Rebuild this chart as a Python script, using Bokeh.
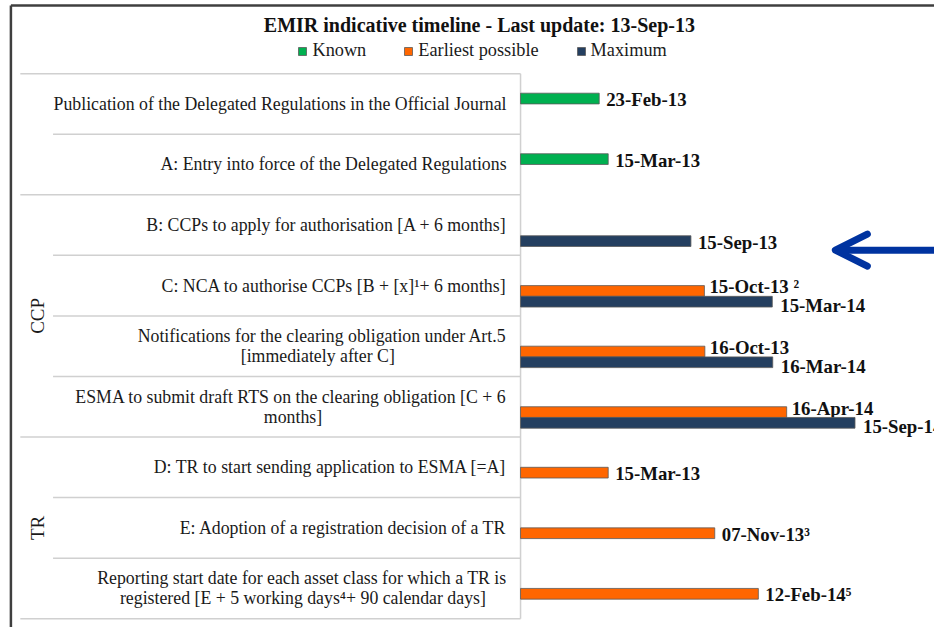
import pandas as pd
from bokeh.plotting import figure
from bokeh.models import (Range1d, Legend, LegendItem, Arrow, OpenHead,
                          ColumnDataSource)
from bokeh.core.properties import value
from bokeh.embed import file_html
from bokeh.resources import INLINE

# ---------------- data ----------------
TITLE = "EMIR indicative timeline - Last update: 13-Sep-13"
series_names = ["Known", "Earliest possible", "Maximum"]

row_line1 = [
    "Publication of the Delegated Regulations in the Official Journal",
    "A: Entry into force of the Delegated Regulations",
    "B: CCPs to apply for authorisation [A + 6 months]",
    "C: NCA to authorise CCPs [B + [x]\u00b9+ 6 months]",
    "Notifications for the clearing obligation under Art.5",
    "ESMA to submit draft RTS on the clearing obligation [C + 6",
    "D: TR to start sending application to ESMA [=A]",
    "E: Adoption of a registration decision of a TR",
    "Reporting start date for each asset class for which a TR is",
]
row_line2 = [
    "", "", "", "",
    "[immediately after C]",
    "months]",
    "", "",
    "registered [E + 5 working days\u2074+ 90 calendar days]",
]
groups = [("", 0, 1), ("CCP", 2, 5), ("TR", 6, 8)]

known_dates = ["2013-02-23", "2013-03-15", None, None, None, None, None, None, None]
earliest_dates = [None, None, None, "2013-10-15", "2013-10-16", "2014-04-16",
                  "2013-03-15", "2013-11-07", "2014-02-12"]
maximum_dates = [None, None, "2013-09-15", "2014-03-15", "2014-03-16", "2014-09-15",
                 None, None, None]
earliest_notes = ["", "", "", " \u00b2", "", "", "", "\u00b3", "\u2075"]
AXIS_START = "2012-09-01"

# ---------------- layout constants ----------------
W, H = 934, 627              # figure size (fits the window)
REF_W, REF_H = 942, 643      # reference picture size; ranges cover it
KX, KY = W / REF_W, H / REF_H
ORIGIN_PX = 524.5            # reference x of the value axis
PX_PER_DAY = 0.4534          # reference pixels per day
ROW_TOP_PX = 75.0
ROW_H = 62.11
NROWS = len(row_line1)


def sx(px):
    return (px - ORIGIN_PX) / PX_PER_DAY


def sy(py):
    return NROWS - (py - ROW_TOP_PX) / ROW_H


x_start, x_end = sx(0), sx(REF_W)
y_end, y_start = sy(0), sy(REF_H)

GREEN, ORANGE, NAVY = "#00B050", "#FF6600", "#243F60"
BLUE = "#0033A0"
SERIF = value("Liberation Serif")
TXT = "#1a1a1a"

p = figure(width=W, height=H, output_backend="svg", toolbar_location=None,
           title=None, x_range=Range1d(x_start, x_end),
           y_range=Range1d(y_start, y_end), min_border=0)
p.axis.visible = False
p.grid.visible = False
p.outline_line_color = None
p.background_fill_color = "white"
p.border_fill_color = "white"

# ---------------- table ----------------
full_k = sorted({g[1] for g in groups} | {NROWS})
inner_k = [k for k in range(NROWS + 1) if k not in full_k]
p.segment(x0=[sx(20)] * len(full_k), x1=[0] * len(full_k),
          y0=[NROWS - k for k in full_k], y1=[NROWS - k for k in full_k],
          line_color="#d0d0d0", line_width=1.5)
p.segment(x0=[sx(53)] * len(inner_k), x1=[0] * len(inner_k),
          y0=[NROWS - k for k in inner_k], y1=[NROWS - k for k in inner_k],
          line_color="#d0d0d0", line_width=1.5)
p.segment(x0=[0], x1=[0], y0=[0], y1=[NROWS], line_color="#d0d0d0", line_width=1.5)

# row labels
single = [i for i in range(NROWS) if not row_line2[i]]
double = [i for i in range(NROWS) if row_line2[i]]
p.text(x=[0] * len(single), y=[NROWS - i - 0.5 for i in single],
       text=[row_line1[i] for i in single], x_offset=-14,
       text_align="right", text_baseline="middle", text_font=SERIF,
       text_font_size="17.8px", text_color=TXT)
p.text(x=[0] * len(double), y=[NROWS - i - 0.5 for i in double],
       text=[row_line1[i] for i in double], x_offset=-14, y_offset=-10,
       text_align="right", text_baseline="middle", text_font=SERIF,
       text_font_size="17.8px", text_color=TXT)
line2_center_px = {4: 320, 5: 295, 8: 305}
p.text(x=[sx(line2_center_px[i]) for i in double], y=[NROWS - i - 0.5 for i in double],
       text=[row_line2[i] for i in double], y_offset=10,
       text_align="center", text_baseline="middle", text_font=SERIF,
       text_font_size="17.8px", text_color=TXT)

# group labels
glab = [g for g in groups if g[0]]
p.text(x=[sx(37)] * len(glab), y=[NROWS - (g[1] + g[2] + 1) / 2 for g in glab],
       text=[g[0] for g in glab], angle=1.5708, text_align="center",
       text_baseline="middle", text_font=SERIF, text_font_size="19px",
       text_color=TXT)

# ---------------- bars ----------------
origin = pd.Timestamp(AXIS_START)
BAR_H = 0.177
offsets = [0.5 * BAR_H, -0.5 * BAR_H, -1.5 * BAR_H]
all_series = [known_dates, earliest_dates, maximum_dates]
colors = [GREEN, ORANGE, NAVY]
renderers = []
for s, (dates, col, off) in enumerate(zip(all_series, colors, offsets)):
    rows = [i for i, d in enumerate(dates) if d]
    ts = [pd.Timestamp(dates[i]) for i in rows]
    labels = [t.strftime("%d-%b-%y") for t in ts]
    if s == 1:
        labels = [lab + earliest_notes[i] for lab, i in zip(labels, rows)]
    dy = []
    dx = []
    for i in rows:
        both = earliest_dates[i] is not None and maximum_dates[i] is not None
        if both and s == 1:
            dy.append(-4); dx.append(5)
        elif both and s == 2:
            dy.append(4); dx.append(8)
        else:
            dy.append(1); dx.append(7)
    src = ColumnDataSource(dict(
        y=[NROWS - i - 0.5 + off for i in rows],
        right=[(t - origin).days for t in ts],
        label=labels, dx=dx, dy=dy))
    r = p.hbar(y="y", left=0, right="right", height=BAR_H, source=src,
               fill_color=col, line_color="#5a5a5a", line_width=0.8)
    renderers.append(r)
    p.text(x="right", y="y", text="label", x_offset="dx", y_offset="dy",
           source=src, text_align="left", text_baseline="middle",
           text_font=SERIF, text_font_style="bold", text_font_size="18.8px",
           text_color="#111111")

# ---------------- title & legend ----------------
p.text(x=[sx(483)], y=[sy(25)], text=[TITLE], text_align="center",
       text_baseline="middle", text_font=SERIF, text_font_style="bold",
       text_font_size="20px", text_color="#111111")

legend = Legend(items=[LegendItem(label=n, renderers=[r])
                       for n, r in zip(series_names, renderers)],
                location=(300 * KX, (REF_H - 63) * KY), orientation="horizontal",
                glyph_width=10, glyph_height=10, label_standoff=5,
                spacing=37, padding=0, margin=0, label_height=20,
                label_text_font="Liberation Serif", label_text_font_size="18.3px",
                label_text_color=TXT,
                border_line_color=None, background_fill_alpha=0)
p.add_layout(legend)

# ---------------- chart border & arrow ----------------
p.segment(x0=[sx(10.5), sx(10.5)], y0=[y_start, sy(5)],
          x1=[sx(10.5), x_end], y1=[sy(5), sy(5)],
          line_color="#3f3f3f", line_width=2.5)

p.add_layout(Arrow(end=OpenHead(size=32, line_width=7, line_color=BLUE,
                                line_cap="round", line_join="round"),
                   x_start=sx(960), y_start=sy(256), x_end=sx(842), y_end=sy(256),
                   line_width=7, line_color=BLUE))

open("out.html", "w").write(file_html(p, INLINE))
